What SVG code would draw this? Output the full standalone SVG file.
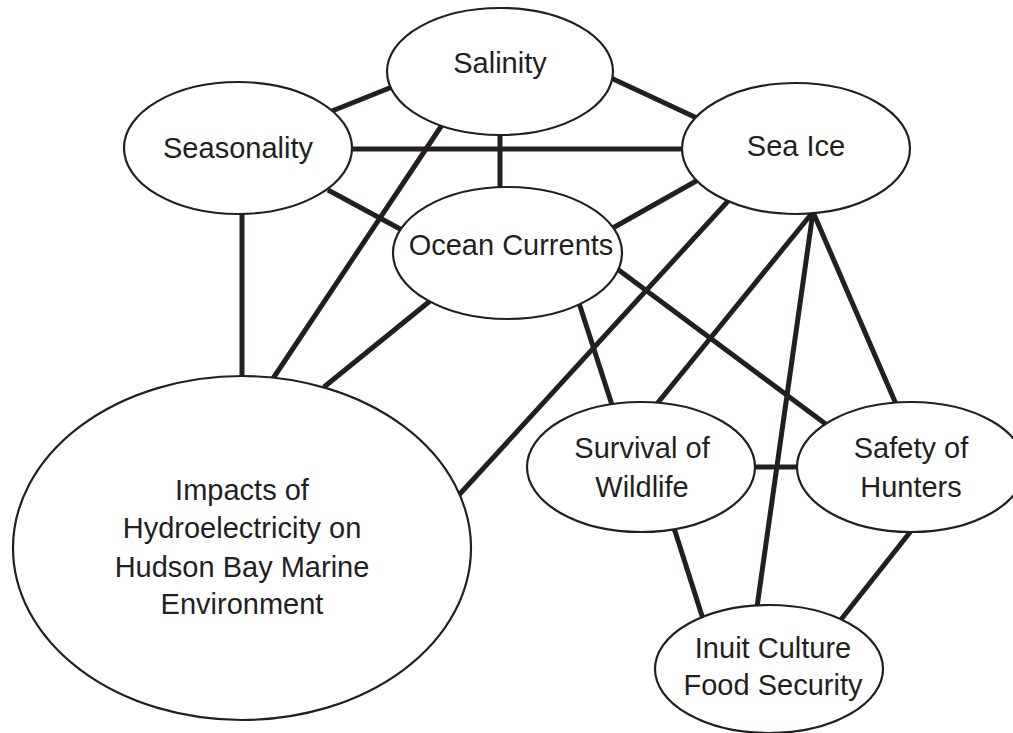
<svg xmlns="http://www.w3.org/2000/svg" width="1013" height="733" viewBox="0 0 1013 733">
<style>
.n{fill:#fff;stroke:#231f20;stroke-width:2.2}
.c line{stroke:#231f20;stroke-width:5;stroke-linecap:butt}
text{font-family:"Liberation Sans",Arial,sans-serif;font-size:29px;fill:#231f20;text-anchor:middle}
</style>
<rect width="1013" height="733" fill="#fff"/>
<g id="connectors" class="c">
<line x1="332" y1="111" x2="392" y2="87"/>
<line x1="611" y1="78" x2="699" y2="119"/>
<line x1="350" y1="149" x2="684" y2="149"/>
<line x1="500" y1="133" x2="500" y2="189"/>
<line x1="328" y1="190" x2="402" y2="230"/>
<line x1="442" y1="125" x2="272" y2="380"/>
<line x1="242" y1="212" x2="242" y2="378"/>
<line x1="430" y1="301" x2="324" y2="387"/>
<line x1="698" y1="180" x2="611" y2="229"/>
<line x1="729" y1="200" x2="458" y2="496"/>
<line x1="579" y1="303" x2="612" y2="405"/>
<line x1="616" y1="268" x2="827" y2="425"/>
<line x1="813" y1="212" x2="656" y2="405"/>
<line x1="813" y1="212" x2="757" y2="607"/>
<line x1="813" y1="212" x2="896" y2="404"/>
<line x1="753" y1="467" x2="799" y2="467"/>
<line x1="674" y1="528" x2="703" y2="619"/>
<line x1="911" y1="531" x2="839" y2="622"/>
</g>
<g id="salinity"><ellipse class="n" cx="500" cy="71.5" rx="113" ry="63.5"/><text x="500" y="73">Salinity</text></g>
<g id="seasonality"><ellipse class="n" cx="238" cy="148" rx="114" ry="66"/><text x="238" y="158">Seasonality</text></g>
<g id="sea-ice"><ellipse class="n" cx="796" cy="148.5" rx="114" ry="65.5"/><text x="796" y="156">Sea Ice</text></g>
<g id="ocean-currents"><ellipse class="n" cx="507.5" cy="253" rx="114.5" ry="66"/><text x="511" y="255">Ocean Currents</text></g>
<g id="impacts"><ellipse class="n" cx="242" cy="548" rx="229" ry="172"/>
<text x="242" y="500">Impacts of</text>
<text x="242" y="538">Hydroelectricity on</text>
<text x="242" y="577">Hudson Bay Marine</text>
<text x="242" y="614">Environment</text></g>
<g id="survival"><ellipse class="n" cx="641" cy="467" rx="114" ry="65"/>
<text x="642" y="458">Survival of</text>
<text x="642" y="497">Wildlife</text></g>
<g id="safety"><ellipse class="n" cx="911" cy="467" rx="114" ry="65"/>
<text x="911" y="458">Safety of</text>
<text x="911" y="497">Hunters</text></g>
<g id="inuit"><ellipse class="n" cx="769" cy="669" rx="114" ry="64"/>
<text x="773" y="658">Inuit Culture</text>
<text x="773" y="695">Food Security</text></g>
</svg>
